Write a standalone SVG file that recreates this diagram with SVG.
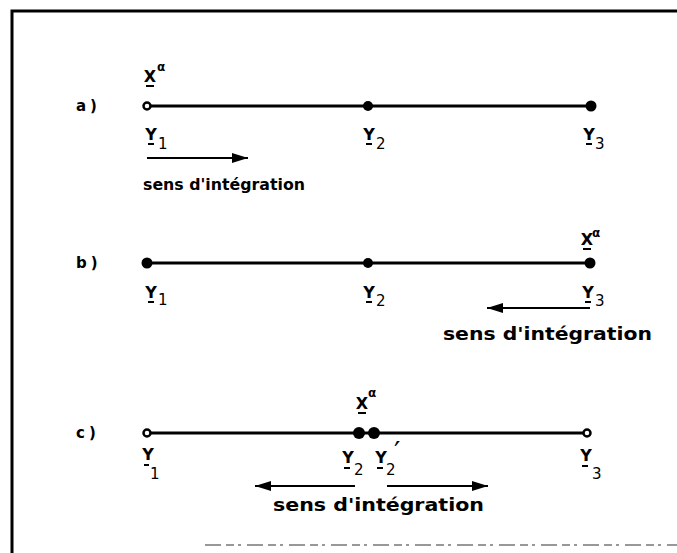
<svg xmlns="http://www.w3.org/2000/svg" width="677" height="553" viewBox="0 0 677 553">
<style>
.frame{stroke:#000;stroke-width:3;fill:none}
.seg{stroke:#000;stroke-width:3;fill:none}
.arr{stroke:#000;stroke-width:2;fill:none}
.dot{fill:#000}
.odot{fill:#fff;stroke:#000;stroke-width:2.5}
.lbl{font-family:"DejaVu Sans",sans-serif;font-weight:bold;font-size:15px;letter-spacing:4px;fill:#000}
.v{font-family:"DejaVu Sans",sans-serif;font-weight:bold;font-size:16px;fill:#000;text-anchor:middle}
.sub{font-family:"DejaVu Sans",sans-serif;font-size:15px;fill:#000}
.sup{font-family:"DejaVu Sans",sans-serif;font-weight:bold;font-size:12px;fill:#000}
.bar{stroke:#000;stroke-width:2}
.txt{font-family:"DejaVu Sans",sans-serif;font-weight:bold;fill:#000}
.pr{font-family:"DejaVu Sans",sans-serif;font-size:28px;fill:#000}
</style>
<defs>
<marker id="ah" markerUnits="userSpaceOnUse" markerWidth="18" markerHeight="10" refX="16" refY="5" orient="auto">
<path d="M0,0 L16,5 L0,10 Z" fill="#000"/>
</marker>
</defs>
<g id="frame">
<path class="frame" d="M12,553 V11 H677"/>
<path d="M205,545 H677" stroke="#777" stroke-width="1.5" stroke-dasharray="16,5,8,4,3,6"/>
</g>
<g id="connectors">
<line class="seg" x1="147" y1="106" x2="591" y2="106"/>
<line class="seg" x1="147" y1="263" x2="590" y2="263"/>
<line class="seg" x1="147" y1="433" x2="587" y2="433"/>
<line class="arr" x1="147" y1="158" x2="248" y2="158" marker-end="url(#ah)"/>
<line class="arr" x1="590" y1="308" x2="487" y2="308" marker-end="url(#ah)"/>
<line class="arr" x1="355" y1="486" x2="255" y2="486" marker-end="url(#ah)"/>
<line class="arr" x1="387" y1="486" x2="488" y2="486" marker-end="url(#ah)"/>
</g>
<g id="row-a">
<text class="lbl" x="76" y="111">a)</text>
<g id="a-y1">
<circle class="odot" cx="147" cy="106" r="3.5"/>
<text class="v" x="150" y="82">X</text><line class="bar" x1="146" y1="86" x2="154" y2="86"/><text class="sup" x="157" y="71">α</text>
<text class="v" x="151" y="140">Y</text><line class="bar" x1="148" y1="144" x2="154" y2="144"/><text class="sub" x="158" y="149">1</text>
</g>
<g id="a-y2">
<circle class="dot" cx="368" cy="106" r="5"/>
<text class="v" x="369" y="140">Y</text><line class="bar" x1="366" y1="144" x2="372" y2="144"/><text class="sub" x="376" y="149">2</text>
</g>
<g id="a-y3">
<circle class="dot" cx="591" cy="106" r="5.5"/>
<text class="v" x="589" y="140">Y</text><line class="bar" x1="586" y1="144" x2="592" y2="144"/><text class="sub" x="595" y="149">3</text>
</g>
<text class="txt" x="143" y="190" font-size="15" textLength="162" lengthAdjust="spacingAndGlyphs">sens d'intégration</text>
</g>
<g id="row-b">
<text class="lbl" x="76" y="268">b)</text>
<g id="b-y1">
<circle class="dot" cx="147" cy="263" r="5.5"/>
<text class="v" x="151" y="298">Y</text><line class="bar" x1="148" y1="302" x2="154" y2="302"/><text class="sub" x="158" y="305">1</text>
</g>
<g id="b-y2">
<circle class="dot" cx="368" cy="263" r="5"/>
<text class="v" x="369" y="298">Y</text><line class="bar" x1="366" y1="302" x2="372" y2="302"/><text class="sub" x="376" y="306">2</text>
</g>
<g id="b-y3">
<circle class="dot" cx="590" cy="263" r="5.5"/>
<text class="v" x="587" y="245">X</text><line class="bar" x1="583" y1="249" x2="591" y2="249"/><text class="sup" x="592" y="237">α</text>
<text class="v" x="588" y="298">Y</text><line class="bar" x1="585" y1="302" x2="591" y2="302"/><text class="sub" x="595" y="306">3</text>
</g>
<text class="txt" x="443" y="340" font-size="17" textLength="209" lengthAdjust="spacingAndGlyphs">sens d'intégration</text>
</g>
<g id="row-c">
<text class="lbl" x="76" y="438">c)</text>
<g id="c-y1">
<circle class="odot" cx="147" cy="433" r="3.5"/>
<text class="v" x="148" y="460">Y</text><line class="bar" x1="144" y1="465" x2="149" y2="465"/><text class="sub" x="150" y="479">1</text>
</g>
<g id="c-y2">
<circle class="dot" cx="359" cy="433" r="6"/>
<text class="v" x="362" y="409">X</text><line class="bar" x1="358" y1="413" x2="366" y2="413"/><text class="sup" x="368" y="397">α</text>
<text class="v" x="348" y="463">Y</text><line class="bar" x1="344" y1="468" x2="350" y2="468"/><text class="sub" x="354" y="475">2</text>
</g>
<g id="c-y2p">
<circle class="dot" cx="374" cy="433" r="6"/>
<text class="v" x="381" y="463">Y</text><line class="bar" x1="377" y1="468" x2="383" y2="468"/><text class="sub" x="386" y="475">2</text><text class="pr" x="394" y="462">′</text>
</g>
<g id="c-y3">
<circle class="odot" cx="587" cy="433" r="3.5"/>
<text class="v" x="586" y="461">Y</text><line class="bar" x1="582" y1="466" x2="588" y2="466"/><text class="sub" x="592" y="479">3</text>
</g>
<text class="txt" x="273" y="511" font-size="17" textLength="211" lengthAdjust="spacingAndGlyphs">sens d'intégration</text>
</g>
</svg>
